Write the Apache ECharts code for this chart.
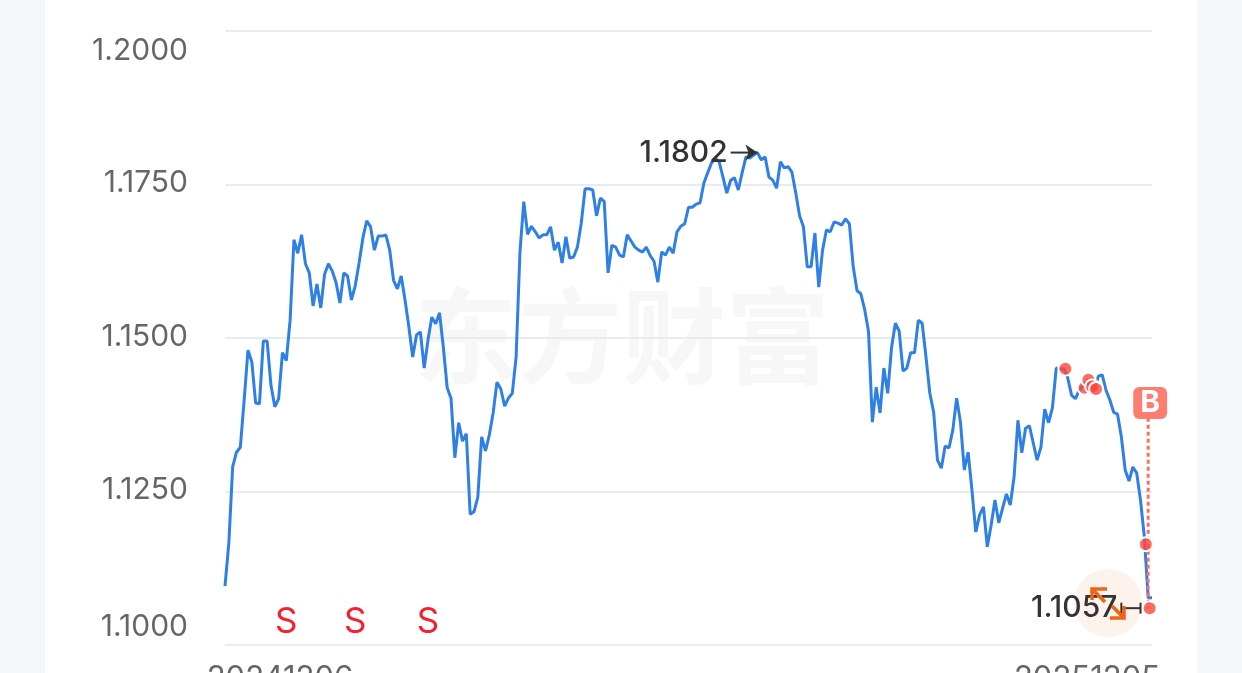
<!DOCTYPE html>
<html>
<head>
<meta charset="utf-8">
<title>chart</title>
<script src="https://cdn.jsdelivr.net/npm/echarts@6/dist/echarts.min.js"></script>
<style>
html,body{margin:0;padding:0;width:100%;height:100%;overflow:hidden;background:#f5f6f8}
#card{position:absolute;left:45px;top:0;width:1152px;height:673px;background:#fff}
#main{position:absolute;left:0;top:0;width:1242px;height:673px}
</style>
</head>
<body>
<div id="card"></div>
<div id="main"></div>
<script>
// 收盘价，从图上读的
const closes = [
1.1096,1.1166,1.1290,1.1314,1.1322,1.1399,1.1480,1.1461,1.1394,1.1393,
1.1495,1.1495,1.1423,1.1388,1.1401,1.1476,1.1463,1.1529,1.1660,1.1638,
1.1668,1.1621,1.1606,1.1552,1.1588,1.1549,1.1604,1.1621,1.1609,1.1590,
1.1557,1.1606,1.1601,1.1562,1.1585,1.1622,1.1663,1.1691,1.1681,1.1643,
1.1666,1.1666,1.1668,1.1643,1.1594,1.1580,1.1601,1.1562,1.1518,1.1469,
1.1505,1.1510,1.1451,1.1497,1.1534,1.1523,1.1541,1.1485,1.1419,1.1402,
1.1305,1.1362,1.1332,1.1344,1.1213,1.1217,1.1241,1.1339,1.1316,1.1342,
1.1378,1.1428,1.1417,1.1389,1.1402,1.1410,1.1469,1.1640,1.1722,1.1669,
1.1682,1.1673,1.1663,1.1668,1.1668,1.1681,1.1643,1.1656,1.1622,1.1665,
1.1630,1.1632,1.1648,1.1687,1.1743,1.1743,1.1741,1.1699,1.1728,1.1722,
1.1606,1.1651,1.1648,1.1635,1.1632,1.1668,1.1658,1.1648,1.1643,1.1640,
1.1648,1.1634,1.1625,1.1591,1.1640,1.1635,1.1648,1.1638,1.1673,1.1682,
1.1686,1.1713,1.1713,1.1718,1.1720,1.1752,1.1769,1.1785,1.1793,1.1787,
1.1762,1.1736,1.1757,1.1761,1.1741,1.1769,1.1795,1.1793,1.1798,1.1802,
1.1790,1.1795,1.1762,1.1757,1.1744,1.1787,1.1777,1.1779,1.1770,1.1736,
1.1699,1.1681,1.1616,1.1616,1.1671,1.1583,1.1643,1.1676,1.1673,1.1689,
1.1687,1.1684,1.1694,1.1686,1.1616,1.1577,1.1572,1.1546,1.1510,1.1363,
1.1420,1.1378,1.1451,1.1410,1.1484,1.1524,1.1511,1.1446,1.1451,1.1476,
1.1476,1.1529,1.1524,1.1469,1.1410,1.1379,1.1301,1.1288,1.1324,1.1321,
1.1350,1.1402,1.1363,1.1285,1.1314,1.1252,1.1184,1.1212,1.1225,1.1160,
1.1195,1.1236,1.1199,1.1223,1.1246,1.1228,1.1274,1.1366,1.1313,1.1353,
1.1357,1.1329,1.1301,1.1322,1.1384,1.1362,1.1386,1.1451,1.1450,1.1450,
1.1435,1.1407,1.1401,1.1415,1.1423,1.1432,1.1423,1.1417,1.1438,1.1440,
1.1415,1.1399,1.1379,1.1376,1.1339,1.1285,1.1267,1.1290,1.1280,1.1236,
1.1176,1.1077,1.1077
];
const categories = closes.map((v, i) => i);
const dateLabels = ['20241206', '20251205'];
const yTicks = [1.1, 1.125, 1.15, 1.175, 1.2];

// 买卖点
const sellPoints = [[16, 1.1037], [34, 1.1037], [53, 1.1037]];
const buyPoint = [[241, 1.1394]];
const buyLine = [[241, 1.1370], [241, 1.1060]];
const tradeDots = [[219, 1.1450], [224, 1.1419], [225, 1.1432], [226, 1.1421], [227, 1.1417], [240, 1.1164], [241, 1.1060]];

const highMark = [[132, 1.1802], [139, 1.1802]];
const lowMark = [[234, 1.1060], [239, 1.1060]];

const myChart = echarts.init(document.getElementById('main'), null, { renderer: 'canvas' });
const font = 'Inter, "Noto Sans", sans-serif';
const orange = { stroke: '#f0640f', lineWidth: 3.5, fill: 'none' };

myChart.setOption({
    backgroundColor: 'transparent',
    animation: false,
    grid: { left: 225, right: 90, top: 31, bottom: 28, outerBoundsMode: 'none' },
    xAxis: {
        type: 'category',
        data: categories,
        boundaryGap: false,
        axisLine: { show: false },
        axisTick: { show: false },
        splitLine: { show: false },
        axisLabel: {
            interval: (i) => i === 0 || i === closes.length - 1,
            showMinLabel: true,
            showMaxLabel: true,
            margin: 18,
            formatter: (v, i) => i === 0 ? '{first|' + dateLabels[0] + '}' : '{last|' + dateLabels[1] + '}',
            rich: {
                first: { fontFamily: font, fontSize: 31, color: '#666', padding: [0, 0, 0, 110] },
                last: { fontFamily: font, fontSize: 31, color: '#666', padding: [0, 130, 0, 0] }
            }
        }
    },
    yAxis: {
        type: 'value',
        min: 1.1,
        max: 1.2,
        interval: 0.025,
        axisLine: { show: false },
        axisTick: { show: false },
        splitLine: { lineStyle: { color: '#e8ebf1', width: 2 } },
        axisLabel: {
            margin: 37,
            formatter: (v) => {
                const s = v.toFixed(4);
                if (v === yTicks[0]) return '{low|' + s + '}';
                if (v === yTicks[yTicks.length - 1]) return '{high|' + s + '}';
                return '{mid|' + s + '}';
            },
            rich: {
                low: { fontFamily: font, fontSize: 30, color: '#666', padding: [0, 0, 36, 0] },
                mid: { fontFamily: font, fontSize: 30, color: '#666', padding: [0, 0, 3, 0] },
                high: { fontFamily: font, fontSize: 30, color: '#666', padding: [40, 0, 0, 0] }
            }
        }
    },
    graphic: [
        {
            type: 'text', left: 414, top: 284, silent: true, z: 0,
            style: { text: '东方财富', fontFamily: '"Noto Sans CJK SC"', fontWeight: 'bold', fontSize: 104, fill: '#f7f7f7' }
        },
        { type: 'circle', shape: { cx: 1108, cy: 603, r: 34 }, style: { fill: '#fdf2ec' }, silent: true, z: 0 },
        {
            type: 'group', silent: true, z: 10,
            children: [
                { type: 'polyline', shape: { points: [[1092, 600], [1092, 589], [1107, 589]] }, style: orange, z: 10 },
                { type: 'line', shape: { x1: 1093, y1: 590, x2: 1105, y2: 602 }, style: orange, z: 10 },
                { type: 'polyline', shape: { points: [[1124, 606], [1124, 618], [1110, 618]] }, style: orange, z: 10 },
                { type: 'line', shape: { x1: 1112, y1: 606, x2: 1123, y2: 617 }, style: orange, z: 10 }
            ]
        }
    ],
    series: [
        {
            name: 'close',
            type: 'line',
            data: closes,
            showSymbol: false,
            smooth: false,
            lineStyle: { color: '#2f80e4', width: 3 },
            z: 3
        },
        {
            name: 'buy line',
            type: 'line',
            data: buyLine,
            showSymbol: false,
            lineStyle: { color: '#ff6f61', width: 3, type: [4, 3] },
            z: 4
        },
        {
            name: 'trades',
            type: 'scatter',
            data: tradeDots,
            symbolSize: 14,
            symbolOffset: [1.5, 0],
            itemStyle: { color: 'rgba(255,70,60,0.8)', borderColor: '#fff', borderWidth: 2, opacity: 1 },
            z: 5
        },
        {
            name: 'sell',
            type: 'scatter',
            data: sellPoints,
            symbolSize: 0,
            itemStyle: { opacity: 1 },
            label: { show: true, position: 'inside', formatter: 'S', fontFamily: font, fontSize: 35, color: '#f5222d' },
            z: 6
        },
        {
            name: 'buy',
            type: 'scatter',
            data: buyPoint,
            symbolSize: 0,
            itemStyle: { opacity: 1 },
            label: {
                show: true, position: 'inside', formatter: 'B', offset: [2, 0],
                fontFamily: font, fontSize: 30, fontWeight: 'bold', color: '#fff',
                backgroundColor: '#ff7d70', borderRadius: 6, padding: [2, 7, 0, 7]
            },
            z: 6
        },
        {
            name: 'high',
            type: 'line',
            data: highMark,
            showSymbol: false,
            lineStyle: { color: '#333', width: 2 },
            markPoint: {
                symbol: 'arrow', symbolSize: 12, symbolRotate: -90,
                data: [{ coord: highMark[1], value: '' }],
                label: { show: false },
                itemStyle: { color: '#333' }
            },
            z: 7
        },
        {
            name: 'low',
            type: 'line',
            data: lowMark,
            showSymbol: false,
            lineStyle: { color: '#333', width: 2 },
            z: 7
        },
        {
            name: 'extremes',
            type: 'scatter',
            data: [
                { value: highMark[0], label: { show: true, position: 'left', distance: 3, formatter: '1.1802' } },
                { value: lowMark[0], label: { show: true, position: 'left', distance: 4, formatter: '1.1057' } }
            ],
            symbolSize: 0,
            itemStyle: { opacity: 1 },
            label: { fontFamily: font, fontSize: 30, fontWeight: 500, color: '#333' },
            z: 8
        },
        {
            name: 'low tick',
            type: 'scatter',
            data: lowMark,
            symbol: 'rect',
            symbolSize: [2, 11],
            itemStyle: { color: '#333', opacity: 1 },
            z: 7
        }
    ]
});
</script>
</body>
</html>
